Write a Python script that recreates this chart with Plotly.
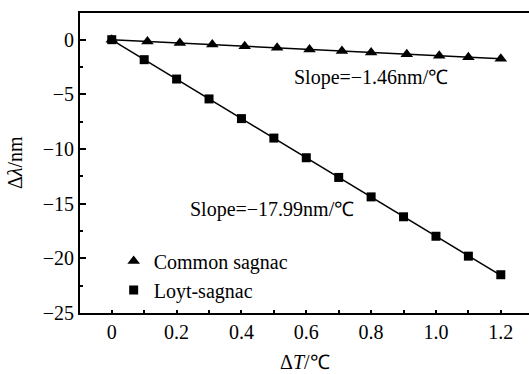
import numpy as np
import plotly.graph_objects as go

# Data
common_x = [0, 0.11, 0.21, 0.31, 0.41, 0.51, 0.61, 0.71, 0.80, 0.91, 1.01, 1.10, 1.20]
common_y = [0, -0.16, -0.31, -0.45, -0.60, -0.74, -0.89, -1.03, -1.17, -1.33, -1.47, -1.61, -1.75]
loyt_x = [0, 0.1, 0.2, 0.3, 0.4, 0.5, 0.6, 0.7, 0.8, 0.9, 1.0, 1.1, 1.2]
loyt_y = [0, -1.83, -3.60, -5.42, -7.22, -9.00, -10.80, -12.60, -14.38, -16.20, -17.98, -19.80, -21.50]
labels = ["Common sagnac", "Loyt-sagnac"]
slope_texts = ["Slope=\u22121.46nm/\u2103", "Slope=\u221217.99nm/\u2103"]

FONT = "Liberation Serif"

def fit_line(xs, ys):
    p = np.polyfit(xs, ys, 1)
    xx = np.array([min(xs), max(xs)])
    return xx, np.polyval(p, xx)

fig = go.Figure()
for xs, ys in [(common_x, common_y), (loyt_x, loyt_y)]:
    fx, fy = fit_line(xs, ys)
    fig.add_trace(go.Scatter(x=fx, y=fy, mode="lines", line=dict(color="black", width=1.5),
                             showlegend=False, hoverinfo="skip"))

fig.add_trace(go.Scatter(x=common_x, y=common_y, mode="markers", name=labels[0],
                         marker=dict(symbol="triangle-up", size=11, color="black")))
fig.add_trace(go.Scatter(x=loyt_x, y=loyt_y, mode="markers", name=labels[1],
                         marker=dict(symbol="square", size=9, color="black")))

fig.update_layout(
    width=529, height=374,
    margin=dict(l=80, r=0, t=13, b=61),
    paper_bgcolor="white", plot_bgcolor="white",
    font=dict(family=FONT, size=20, color="black"),
    showlegend=True,
    legend=dict(x=0.075, y=0.238, xanchor="left", yanchor="top", bgcolor="rgba(0,0,0,0)",
                font=dict(family=FONT, size=20, color="black"), itemwidth=30,
                tracegroupgap=0),
    xaxis=dict(range=[-0.098, 1.287], tickvals=[0, 0.2, 0.4, 0.6, 0.8, 1.0, 1.2],
               ticktext=["0", "0.2", "0.4", "0.6", "0.8", "1.0", "1.2"],
               ticks="inside", ticklen=3, tickwidth=2, tickcolor="black",
               minor=dict(dtick=0.1, tick0=0, ticks="inside", ticklen=3, tickwidth=2, tickcolor="black"),
               showline=True, linewidth=2, linecolor="black", mirror=True,
               showgrid=False, zeroline=False,
               tickfont=dict(family=FONT, size=20, color="black")),
    yaxis=dict(range=[-25, 2.44], tickvals=[0, -5, -10, -15, -20, -25],
               ticks="inside", ticklen=6, tickwidth=2, tickcolor="black",
               minor=dict(dtick=2.5, tick0=0, ticks="inside", ticklen=3, tickwidth=2, tickcolor="black"),
               showline=True, linewidth=2, linecolor="black", mirror=False,
               showgrid=False, zeroline=False,
               tickfont=dict(family=FONT, size=20, color="black")),
)

fig.add_annotation(x=0.556, y=-3.47, xref="x", yref="y", text=slope_texts[0], showarrow=False,
                   xanchor="left", yanchor="middle", font=dict(family=FONT, size=20, color="black"))
fig.add_annotation(x=0.235, y=-15.54, xref="x", yref="y", text=slope_texts[1], showarrow=False,
                   xanchor="left", yanchor="middle", font=dict(family=FONT, size=20, color="black"))

fig.add_annotation(x=0.5, y=0, xref="paper", yref="paper", text="\u0394<i>T</i>/\u2103", showarrow=False,
                   xanchor="center", yanchor="middle", yshift=-49,
                   font=dict(family=FONT, size=20, color="black"))
fig.add_annotation(x=0, y=0.5, xref="paper", yref="paper", text="\u0394<i>\u03bb</i>/nm", showarrow=False,
                   xanchor="center", yanchor="middle", xshift=-65, textangle=-90,
                   font=dict(family=FONT, size=20, color="black"))

fig.write_html("out.html")
